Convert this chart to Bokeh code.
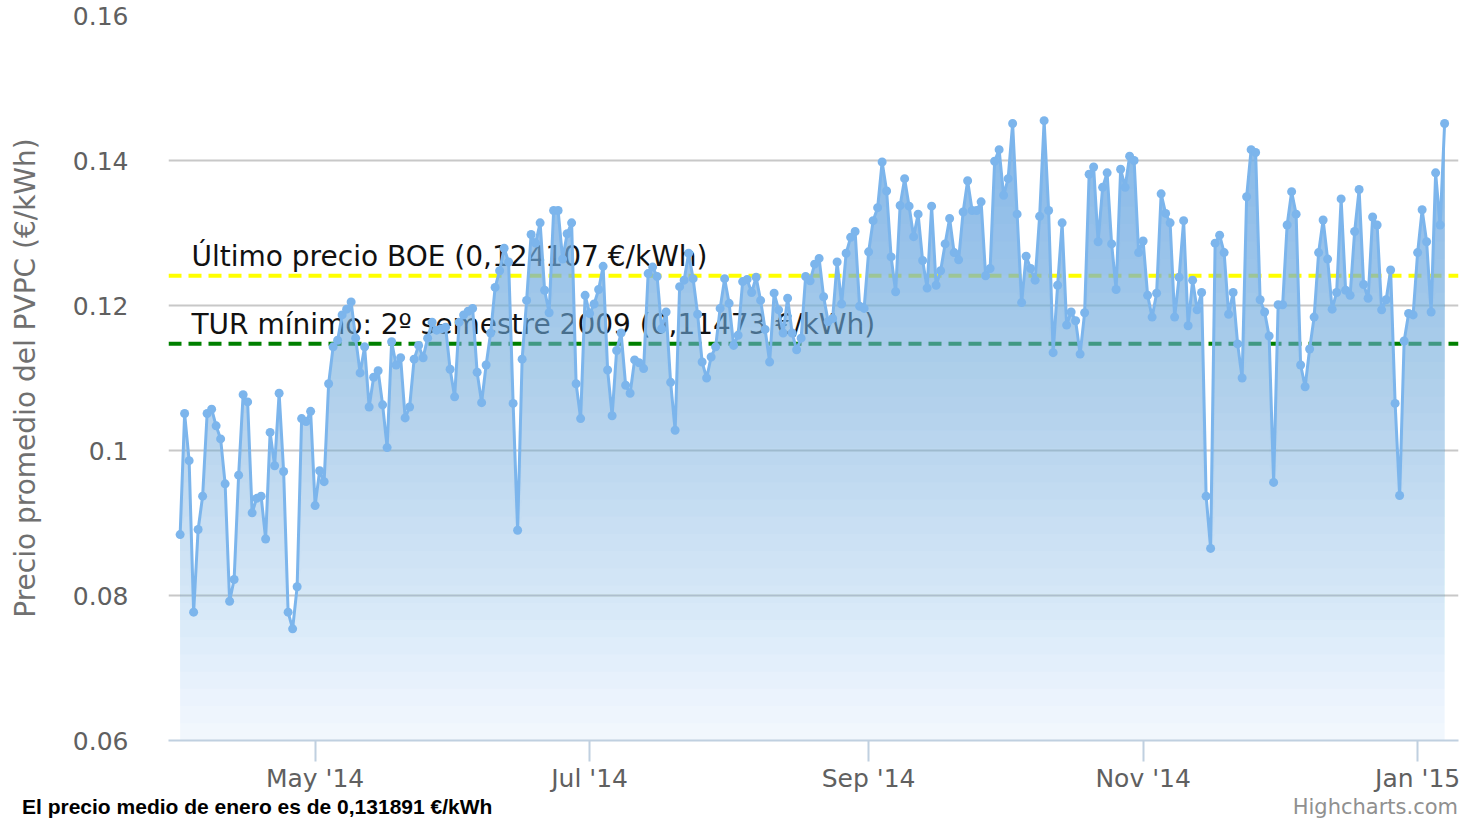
import numpy as np
import pandas as pd
from bokeh.plotting import figure
from bokeh.layouts import column
from bokeh.models import (Range1d, Span, Label, FixedTicker, DatetimeTickFormatter,
                          CustomJSTickFormatter, Div)
from bokeh.embed import file_html
from bokeh.resources import INLINE

# ---------------- data (daily average PVPC price, €/kWh) ----------------
apr_2014 = [0.0884, 0.1051, 0.0986, 0.0777, 0.0891, 0.0937, 0.1051, 0.1057, 0.1034, 0.1016,
            0.0954, 0.0792, 0.0822, 0.0966, 0.1077, 0.1067, 0.0914, 0.0934, 0.0937, 0.0878,
            0.1025, 0.0979, 0.1079, 0.0971, 0.0777, 0.0754, 0.0812, 0.1044, 0.1040, 0.1054]
may_2014 = [0.0924, 0.0972, 0.0957, 0.1092, 0.1143, 0.1152, 0.1187, 0.1195, 0.1205, 0.1155,
            0.1107, 0.1143, 0.1060, 0.1101, 0.1110, 0.1063, 0.1004, 0.1150, 0.1118, 0.1128,
            0.1045, 0.1060, 0.1126, 0.1145, 0.1128, 0.1155, 0.1177, 0.1166, 0.1168, 0.1170,
            0.1112]
jun_2014 = [0.1074, 0.1177, 0.1187, 0.1192, 0.1196, 0.1108, 0.1066, 0.1118, 0.1162, 0.1225,
            0.1248, 0.1279, 0.1260, 0.1065, 0.0890, 0.1126, 0.1207, 0.1298, 0.1286, 0.1314,
            0.1221, 0.1190, 0.1331, 0.1331, 0.1264, 0.1299, 0.1314, 0.1092, 0.1044, 0.1214]
jul_2014 = [0.1189, 0.1202, 0.1222, 0.1254, 0.1111, 0.1048, 0.1138, 0.1162, 0.1090, 0.1079,
            0.1125, 0.1121, 0.1113, 0.1244, 0.1253, 0.1240, 0.1168, 0.1191, 0.1094, 0.1028,
            0.1226, 0.1235, 0.1272, 0.1237, 0.1188, 0.1122, 0.1100, 0.1129, 0.1143, 0.1196,
            0.1237]
aug_2014 = [0.1203, 0.1145, 0.1159, 0.1233, 0.1236, 0.1218, 0.1239, 0.1207, 0.1167, 0.1122,
            0.1217, 0.1194, 0.1162, 0.1210, 0.1162, 0.1139, 0.1155, 0.1240, 0.1234, 0.1257,
            0.1265, 0.1212, 0.1178, 0.1182, 0.1260, 0.1202, 0.1272, 0.1294, 0.1302, 0.1199,
            0.1196]
sep_2014 = [0.1274, 0.1317, 0.1335, 0.1398, 0.1358, 0.1267, 0.1219, 0.1338, 0.1375, 0.1337,
            0.1295, 0.1326, 0.1262, 0.1224, 0.1337, 0.1228, 0.1248, 0.1285, 0.1320, 0.1273,
            0.1263, 0.1329, 0.1372, 0.1331, 0.1331, 0.1343, 0.1241, 0.1251, 0.1399, 0.1415]
oct_2014 = [0.1352, 0.1375, 0.1451, 0.1326, 0.1204, 0.1268, 0.1251, 0.1235, 0.1323, 0.1455,
            0.1331, 0.1135, 0.1228, 0.1314, 0.1173, 0.1191, 0.1179, 0.1133, 0.1190, 0.1381,
            0.1391, 0.1288, 0.1363, 0.1383, 0.1285, 0.1222, 0.1388, 0.1363, 0.1406, 0.1400,
            0.1273]
nov_2014 = [0.1289, 0.1214, 0.1184, 0.1217, 0.1354, 0.1327, 0.1314, 0.1184, 0.1239, 0.1317,
            0.1172, 0.1235, 0.1194, 0.1218, 0.0937, 0.0865, 0.1286, 0.1297, 0.1273, 0.1188,
            0.1218, 0.1147, 0.1100, 0.1350, 0.1415, 0.1411, 0.1208, 0.1191, 0.1158, 0.0956]
dec_2014 = [0.1201, 0.1201, 0.1311, 0.1357, 0.1326, 0.1118, 0.1088, 0.1140, 0.1184, 0.1273,
            0.1318, 0.1264, 0.1195, 0.1218, 0.1347, 0.1221, 0.1214, 0.1302, 0.1360, 0.1229,
            0.1210, 0.1322, 0.1311, 0.1194, 0.1208, 0.1249, 0.1065, 0.0938, 0.1151, 0.1189,
            0.1187]
jan_2015 = [0.1273, 0.1332, 0.1288, 0.1191, 0.1383, 0.1311, 0.1451]

start_date = "2014-04-01"
boe_price = 0.124107
tur_min = 0.11473
boe_text = "Último precio BOE (0,124107 €/kWh)"
tur_text = "TUR mínimo: 2º semestre 2009 (0,11473 €/kWh)"
y_title = "Precio promedio del PVPC (€/kWh)"
y_ticks = [0.06, 0.08, 0.10, 0.12, 0.14, 0.16]
x_tick_dates = ["2014-05-01", "2014-07-01", "2014-09-01", "2014-11-01", "2015-01-01"]
x_tick_labels = ["May '14", "Jul '14", "Sep '14", "Nov '14", "Jan '15"]
caption = "El precio medio de enero es de 0,131891 €/kWh"
credits = "Highcharts.com"

values = apr_2014 + may_2014 + jun_2014 + jul_2014 + aug_2014 + sep_2014 + oct_2014 + \
    nov_2014 + dec_2014 + jan_2015
dates = pd.date_range(start_date, periods=len(values), freq="D")
vals = np.array(values)

SERIES = "#7cb5ec"
FONT = "DejaVu Sans"

x0 = pd.Timestamp(start_date)
p = figure(width=1468, height=795, x_axis_type="datetime",
           x_range=Range1d(x0 - pd.Timedelta(hours=62), x0 + pd.Timedelta(hours=6818)),
           y_range=Range1d(0.06, 0.16),
           output_backend="svg", toolbar_location=None,
           min_border_left=168, min_border_right=10, min_border_top=15, min_border_bottom=54)
p.outline_line_color = None
p.background_fill_color = "white"
p.border_fill_color = "white"

# grid
p.xgrid.grid_line_color = None
p.ygrid.grid_line_color = "#C8C8C8"
p.ygrid.grid_line_width = 2

# y axis
p.yaxis.ticker = FixedTicker(ticks=y_ticks)
p.yaxis.formatter = CustomJSTickFormatter(code="return tick.toFixed(2).replace(/0$/, '');")
p.yaxis.axis_line_color = None
p.yaxis.major_tick_line_color = None
p.yaxis.major_tick_out = 0
p.yaxis.major_tick_in = 0
p.yaxis.minor_tick_line_color = None
p.yaxis.major_label_text_font = FONT
p.yaxis.major_label_text_font_size = "25px"
p.yaxis.major_label_text_color = "#606060"
p.yaxis.major_label_standoff = 40
p.yaxis.axis_label = y_title
p.yaxis.axis_label_text_font = FONT
p.yaxis.axis_label_text_font_size = "28px"
p.yaxis.axis_label_text_font_style = "normal"
p.yaxis.axis_label_text_color = "#707070"
p.yaxis.axis_label_standoff = 28

# x axis
tick_ms = [pd.Timestamp(d).value // 10**6 for d in x_tick_dates]
p.xaxis.ticker = FixedTicker(ticks=tick_ms)
fmt = "%b '%y"
p.xaxis.formatter = DatetimeTickFormatter(microseconds=fmt, milliseconds=fmt, seconds=fmt,
                                          minsec=fmt, minutes=fmt, hourmin=fmt, hours=fmt,
                                          days=fmt, months=fmt, years=fmt)
p.xaxis.major_label_overrides = {t: lab for t, lab in zip(tick_ms, x_tick_labels)}
p.xaxis.axis_line_color = "#C0D0E0"
p.xaxis.axis_line_width = 2
p.xaxis.major_tick_line_color = "#C0D0E0"
p.xaxis.major_tick_line_width = 2
p.xaxis.major_tick_out = 21
p.xaxis.major_tick_in = 0
p.xaxis.minor_tick_line_color = None
p.xaxis.major_label_text_font = FONT
p.xaxis.major_label_text_font_size = "25px"
p.xaxis.major_label_text_color = "#606060"
p.xaxis.major_label_standoff = 2

# plot lines (drawn beneath the translucent area, as in the original)
p.add_layout(Span(location=boe_price, dimension="width", line_color="#FFFF00",
                  line_width=4, line_dash="13 7", level="underlay"))
p.add_layout(Span(location=tur_min, dimension="width", line_color="#008000",
                  line_width=4, line_dash="13 7", level="underlay"))
p.add_layout(Label(x=23, x_units="screen", y=boe_price, y_offset=19, text=boe_text,
                   text_font=FONT, text_font_size="28px", text_color="#111111",
                   text_baseline="middle", level="underlay"))
p.add_layout(Label(x=23, x_units="screen", y=tur_min, y_offset=19, text=tur_text,
                   text_font=FONT, text_font_size="28px", text_color="#111111",
                   text_baseline="middle", level="underlay"))

# area with a vertical transparency gradient (stacked translucent layers)
n_layers = 36
top = vals.max()
levels = 0.06 + (top - 0.06) * np.arange(n_layers) / n_layers
targets = 0.10 + 0.78 * (np.arange(n_layers) + 0.5) / n_layers
prev = 0.0
for lv, A in zip(levels, targets):
    a = 1 - (1 - A) / (1 - prev)
    p.varea(x=dates, y1=np.minimum(vals, lv), y2=vals, fill_color=SERIES, fill_alpha=float(a))
    prev = A

p.line(dates, vals, line_color=SERIES, line_width=3)
p.scatter(dates, vals, size=9, fill_color=SERIES, line_color=SERIES, line_width=0)

# footer: caption (left) and credits (right)
foot_html = (
    '<div style="position:relative;width:1468px;height:29px;">'
    '<span style="position:absolute;left:22px;top:0px;font-family:\'Liberation Sans\';'
    'font-weight:bold;font-size:21px;line-height:24px;color:#000000;white-space:nowrap;">'
    f'{caption}</span>'
    '<span style="position:absolute;right:10px;top:0px;font-family:\'DejaVu Sans\';'
    'font-size:21px;line-height:24px;color:#909090;white-space:nowrap;">'
    f'{credits}</span></div>'
)
foot = Div(text=foot_html, width=1468, height=29, margin=0)

layout = column(p, foot, spacing=0)
open("out.html", "w").write(file_html(layout, INLINE))
